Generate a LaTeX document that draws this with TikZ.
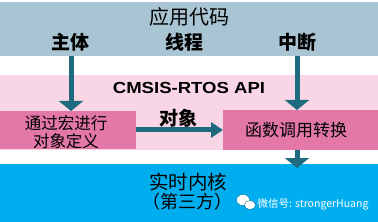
\documentclass[tikz,border=0pt]{standalone}
\usepackage{fontspec}
\usepackage{graphicx}
\setmainfont{Noto Sans CJK SC}
\newfontfamily\latb{Liberation Sans}
\usetikzlibrary{arrows.meta}
\definecolor{appc}{HTML}{A9C5D3}
\definecolor{bandc}{HTML}{F8D6E6}
\definecolor{boxc}{HTML}{E277A8}
\definecolor{kerc}{HTML}{00AEEF}
\definecolor{arrc}{HTML}{1E6B80}
\begin{document}
\begin{tikzpicture}[x=1pt,y=-1pt,
  blockbox/.style={anchor=north west,inner sep=0pt,outer sep=0pt,draw=none},
  lbl/.style={inner sep=0pt,outer sep=0pt,text=black},
  downarr/.style={draw=arrc,line width=5pt,-{Triangle[width=24pt,length=10pt]}},
  sidearr/.style={draw=arrc,line width=5pt,-{Triangle[width=15pt,length=12pt]}}]
\useasboundingbox (0,0) rectangle (378,222);
% blocks
\node[blockbox,fill=appc,minimum width=378pt,minimum height=54pt] (app) at (0,2) {};
\node[blockbox,fill=bandc,minimum width=378pt,minimum height=75pt] (band) at (0,75) {};
\node[blockbox,fill=boxc,minimum width=136pt,minimum height=38pt] (macro) at (0,111) {};
\node[blockbox,fill=boxc,minimum width=155pt,minimum height=40pt] (transl) at (223,110) {};
\node[blockbox,fill=kerc,minimum width=378pt,minimum height=58pt] (kernel) at (0,164) {};
% labels
\node[lbl,font=\fontsize{20}{24}\selectfont] (apptxt) at (189,17) {应用代码};
\node[lbl,font=\fontsize{19}{22}\selectfont\bfseries] (mainl) at (71,42) {主体};
\node[lbl,font=\fontsize{19}{22}\selectfont\bfseries] (thrl) at (184,42) {线程};
\node[lbl,font=\fontsize{19}{22}\selectfont\bfseries] (intl) at (297,42) {中断};
\node[lbl,font=\latb\fontsize{16}{18}\selectfont\bfseries] (api) at (189,88) {\scalebox{1.16}[1]{CMSIS-RTOS API}};
\node[lbl,font=\fontsize{16.5}{18}\selectfont] (mac1) at (66,123) {通过宏进行};
\node[lbl,font=\fontsize{16.5}{18}\selectfont] (mac2) at (66,141) {对象定义};
\node[lbl,font=\fontsize{19}{22}\selectfont\bfseries] (objl) at (178,118) {对象};
\node[lbl,font=\fontsize{17}{20}\selectfont] (trtxt) at (296,130) {函数调用转换};
\node[lbl,font=\fontsize{19.5}{22}\selectfont] (ker1) at (188,182) {实时内核};
\node[lbl,font=\fontsize{18}{22}\selectfont] (ker2) at (187,202) {（第三方）};
% watermark
\fill[white,draw=kerc!60!black,line width=0.3pt] (243,200) ellipse [x radius=6.5pt,y radius=5.5pt];
\fill[white,draw=kerc!60!black,line width=0.3pt] (250,205) ellipse [x radius=5.5pt,y radius=4.5pt];
\node[lbl,text=white,font=\fontsize{10.5}{12}\selectfont] (wm) at (313,204) {微信号: strongerHuang};
% arrows
\draw[downarr] (app.south -| mainl) -- (macro.north -| mainl);
\draw[downarr] (app.south -| intl) -- (transl.north -| intl);
\draw[sidearr] (macro.east |- trtxt) -- (transl.west |- trtxt);
\draw[downarr,shorten >=-4pt] (transl.south -| intl) -- (kernel.north -| intl);
\end{tikzpicture}
\end{document}
